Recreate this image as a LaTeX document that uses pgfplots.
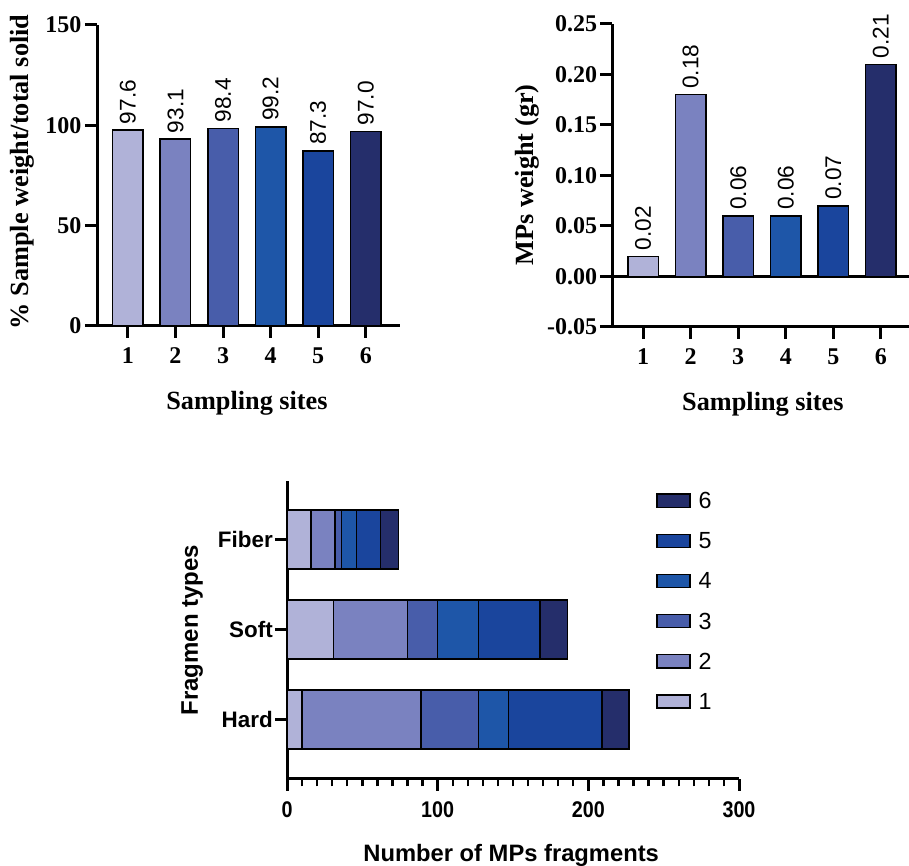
\documentclass[border=0pt]{standalone}
\usepackage{fontspec}
\setmainfont{Liberation Serif}
\newfontfamily\arial{Liberation Sans}
\newfontfamily\arialN[FakeStretch=0.87]{Liberation Sans}
\usepackage{pgfplots}
\pgfplotsset{compat=1.18}

\definecolor{c1}{RGB}{176,178,216}
\definecolor{c2}{RGB}{122,130,192}
\definecolor{c3}{RGB}{72,93,170}
\definecolor{c4}{RGB}{30,86,168}
\definecolor{c5}{RGB}{26,69,157}
\definecolor{c6}{RGB}{37,46,107}

\pgfplotsset{
  gp/.style={
    scale only axis,
    axis x line*=bottom, axis y line*=left,
    axis line style={line width=2.25pt, black},
    tick align=outside,
    major tick length=9pt,
    major tick style={line width=2.25pt, black},
    /pgf/number format/assume math mode=true,
  },
  vbar/.style={ybar, bar width=22.9pt, draw=black, line width=1.1pt},
}

\begin{document}
\begin{tikzpicture}
\useasboundingbox (0,0) rectangle (681.75pt,649.5pt);

% ---------- top left ----------
\begin{axis}[gp,
  at={(72.75pt,405pt)}, anchor=south west,
  width=227.25pt, height=225.75pt,
  xmin=0.35, xmax=6.72, ymin=0, ymax=150,
  xtick={1,2,3,4,5,6}, ytick={0,50,100,150},
  ticklabel style={font=\bfseries\fontsize{18}{20}\selectfont},
  yticklabel style={inner xsep=2.5pt},
  xticklabel style={inner ysep=7pt},
  xlabel={Sampling sites}, ylabel={\% Sample weight/total solid},
  label style={font=\bfseries\fontsize{19.7}{22}\selectfont},
  xlabel style={at={(axis description cs:0.495,-0.256)}, anchor=center},
  ylabel style={at={(axis description cs:-0.248,0.512)}, anchor=center},
  nodes near coords, point meta=explicit symbolic,
  every node near coord/.append style={rotate=90, anchor=west,
     font=\arial\fontsize{17}{20}\selectfont, inner xsep=4pt, black},
]
\addplot[vbar, fill=c1] coordinates {(1,97.6) [97.6]};
\addplot[vbar, fill=c2] coordinates {(2,93.1) [93.1]};
\addplot[vbar, fill=c3] coordinates {(3,98.4) [98.4]};
\addplot[vbar, fill=c4] coordinates {(4,99.2) [99.2]};
\addplot[vbar, fill=c5] coordinates {(5,87.3) [87.3]};
\addplot[vbar, fill=c6] coordinates {(6,97.0) [97.0]};
\end{axis}

% ---------- top right ----------
\begin{axis}[gp,
  at={(459pt,404.25pt)}, anchor=south west,
  width=222.75pt, height=227.25pt,
  xmin=0.346, xmax=6.59, ymin=-0.05, ymax=0.25,
  xtick={1,2,3,4,5,6}, ytick={-0.05,0,0.05,0.1,0.15,0.2,0.25},
  yticklabel style={/pgf/number format/.cd, fixed, fixed zerofill, precision=2, /tikz/.cd, inner xsep=2pt},
  ticklabel style={font=\bfseries\fontsize{18}{20}\selectfont},
  xticklabel style={inner ysep=7pt},
  xlabel={Sampling sites}, ylabel={MPs weight (gr)},
  label style={font=\bfseries\fontsize{19.7}{22}\selectfont},
  xlabel style={at={(axis description cs:0.508,-0.254)}, anchor=center},
  ylabel style={at={(axis description cs:-0.286,0.502)}, anchor=center},
  nodes near coords, point meta=explicit symbolic,
  every node near coord/.append style={rotate=90, anchor=west,
     font=\arial\fontsize{17}{20}\selectfont, inner xsep=4pt, black},
]
\draw[line width=2.25pt] (axis cs:0.346,0) -- (axis cs:6.59,0);
\addplot[vbar, fill=c1] coordinates {(1,0.02) [0.02]};
\addplot[vbar, fill=c2] coordinates {(2,0.18) [0.18]};
\addplot[vbar, fill=c3] coordinates {(3,0.06) [0.06]};
\addplot[vbar, fill=c4] coordinates {(4,0.06) [0.06]};
\addplot[vbar, fill=c5] coordinates {(5,0.07) [0.07]};
\addplot[vbar, fill=c6] coordinates {(6,0.21) [0.21]};
\end{axis}

% ---------- bottom ----------
\begin{axis}[gp,
  at={(215.25pt,65.25pt)}, anchor=south west,
  width=339pt, height=223.5pt,
  xbar stacked, bar width=44.25pt,
  xmin=0, xmax=300, ymin=-0.66, ymax=2.65,
  xtick={0,100,200,300}, minor x tick num=9,
  minor tick length=5.5pt,
  minor tick style={line width=1.8pt, black},
  ytick={0,1,2}, yticklabels={Hard,Soft,Fiber},
  xticklabel style={font=\arialN\bfseries\fontsize{17}{18}\selectfont, inner ysep=8pt},
  yticklabel style={font=\arial\bfseries\fontsize{16.8}{18}\selectfont, inner xsep=1.5pt},
  xlabel={Number of MPs fragments}, ylabel={Fragmen types},
  xlabel style={font=\arial\bfseries\fontsize{17.8}{20}\selectfont,
     at={(axis description cs:0.496,-0.258)}, anchor=center},
  ylabel style={font=\arial\bfseries\fontsize{18}{20}\selectfont,
     at={(axis description cs:-0.210,0.5)}, anchor=center},
  reverse legend,
  legend style={draw=none, fill=none, at={(axis description cs:0.887,0.597)}, anchor=center,
     font=\arial\fontsize{17.5}{20}\selectfont, row sep=18.3pt,
     nodes={font=\arial\fontsize{17.5}{20}\selectfont, text height=11.8pt, text depth=0pt, inner ysep=0pt, inner xsep=6pt}},
  legend image code/.code={\draw[#1, line width=1.1pt] (0pt,-4.9pt) rectangle (24.75pt,4.9pt);},
  every axis plot/.append style={draw=black, line width=1.1pt},
]
\addplot[fill=c1] coordinates {(10,0) (31,1) (16,2)};
\addplot[fill=c2] coordinates {(79,0) (49,1) (16,2)};
\addplot[fill=c3] coordinates {(38,0) (20,1) (4,2)};
\addplot[fill=c4] coordinates {(20,0) (27,1) (10,2)};
\addplot[fill=c5] coordinates {(62,0) (41,1) (16,2)};
\addplot[fill=c6] coordinates {(18,0) (18,1) (12,2)};
\legend{1,2,3,4,5,6}
\end{axis}
\end{tikzpicture}
\end{document}
